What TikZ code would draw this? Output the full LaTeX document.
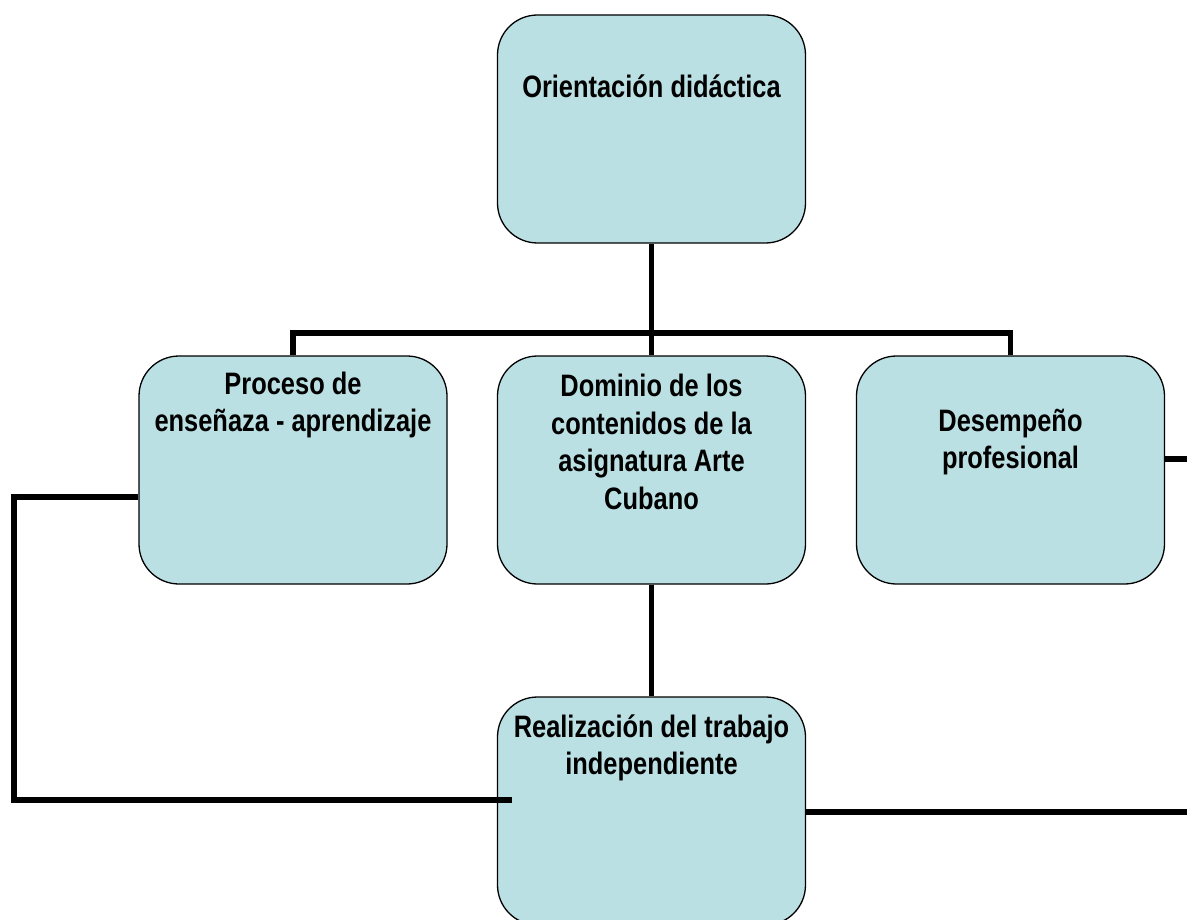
\documentclass[tikz,border=0pt]{standalone}
\usepackage{fontspec}
\setmainfont{Liberation Sans}[FakeStretch=0.82]
\begin{document}
\begin{tikzpicture}[x=1pt,y=-1pt,
  box/.style={draw=black, line width=1.3pt, fill=boxfill, rounded corners=40pt, minimum width=308pt, minimum height=228pt, inner sep=0pt},
  lbl/.style={font=\fontsize{31}{37.5}\selectfont\bfseries, align=center, inner sep=0pt, anchor=center},
  conn/.style={draw=black, line width=5.5pt}]
\definecolor{boxfill}{HTML}{BBE0E3}
\useasboundingbox (0,0) rectangle (1187,920);
\node[box] (top) at (651.5,129) {};
\node[box] (proc) at (293,470) {};
\node[box] (dom) at (651.5,470) {};
\node[box] (des) at (1010.5,470) {};
\node[box] (real) at (651.5,811) {};
\node[lbl] (tTop) at (651.5,86) {Orientación didáctica};
\node[lbl] (tProc) at (293,405) {Proceso de\\enseñaza - aprendizaje};
\node[lbl] (tDom) at (651.5,442) {Dominio de los\\contenidos de la\\asignatura Arte\\Cubano};
\node[lbl] (tDes) at (1010.5,442) {Desempeño\\profesional};
\node[lbl] (tReal) at (651.5,748) {Realización del trabajo\\independiente};
\coordinate (bus) at (651.5,333);
\coordinate (lTop) at (14,497);
\coordinate (lBot) at (14,800);
\coordinate (lEnd) at (512,800);
\coordinate (rA) at (1187,459);
\coordinate (rB) at (1187,812);
\draw[conn] (top.south) -- (bus);
\draw[conn] (proc.north) |- (bus) -| (des.north);
\draw[conn] (bus) -- (dom.north);
\draw[conn] (dom.south) -- (real.north);
\draw[conn] (proc.west |- lTop) -- (lTop) -- (lBot) -- (lEnd);
\draw[conn] (des.east |- rA) -- (rA);
\draw[conn] (real.east |- rB) -- (rB);
\end{tikzpicture}
\end{document}
